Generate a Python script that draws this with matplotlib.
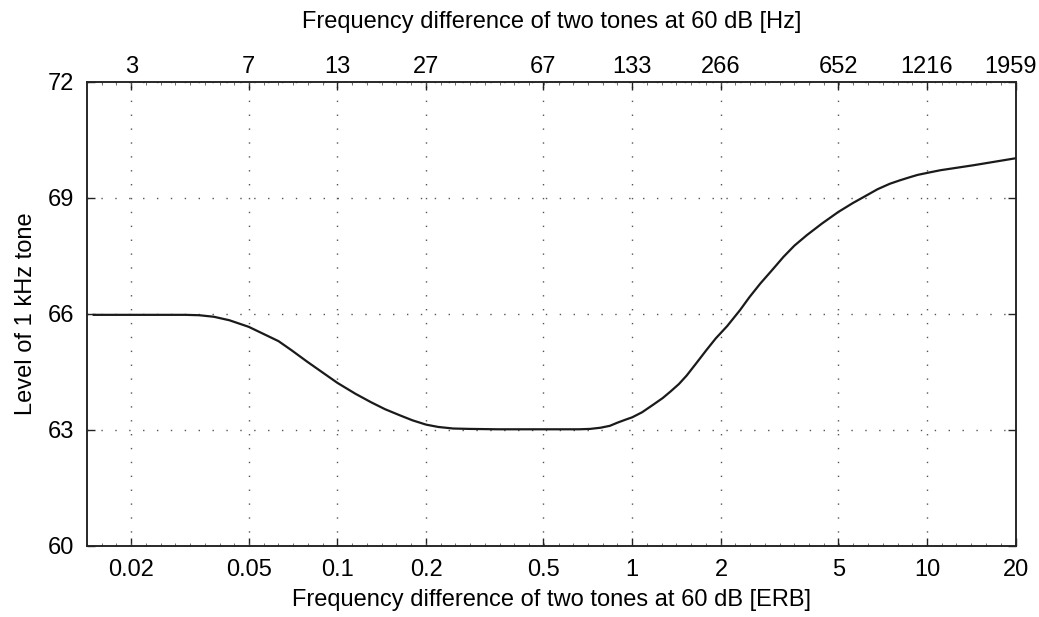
import numpy as np
import matplotlib
matplotlib.use('Agg')
import matplotlib.pyplot as plt
import matplotlib.transforms as mtransforms
from matplotlib.ticker import FixedLocator, FixedFormatter, NullFormatter

plt.rcParams['font.family'] = ['Liberation Sans', 'DejaVu Sans']

# curve
erb = [0.0149, 0.0305, 0.034, 0.0381, 0.043, 0.05, 0.056, 0.0631, 0.07, 0.0789,
       0.089, 0.1, 0.115, 0.130, 0.145, 0.163, 0.18, 0.2, 0.22, 0.247, 0.28,
       0.35, 0.5, 0.66, 0.72, 0.78, 0.84, 0.89, 0.95, 1.0, 1.08, 1.18, 1.27,
       1.35, 1.44, 1.53, 1.65, 1.79, 1.92, 2.1, 2.32, 2.5, 2.72, 3.0, 3.26,
       3.55, 3.91, 4.4, 5.0, 5.6, 6.24, 6.8, 7.48, 8.1, 8.75, 9.3, 10, 11.1,
       14.4, 20]
level = [65.97, 65.97, 65.96, 65.92, 65.83, 65.66, 65.48, 65.29, 65.05, 64.76,
         64.48, 64.21, 63.93, 63.71, 63.53, 63.37, 63.24, 63.13, 63.07, 63.03,
         63.02, 63.01, 63.01, 63.01, 63.02, 63.05, 63.1, 63.18, 63.26, 63.32,
         63.45, 63.65, 63.82, 63.99, 64.18, 64.40, 64.72, 65.07, 65.36, 65.68,
         66.09, 66.43, 66.78, 67.15, 67.47, 67.76, 68.03, 68.33, 68.63, 68.86,
         69.06, 69.22, 69.36, 69.45, 69.53, 69.59, 69.64, 69.71, 69.84, 70.02]

erb_ticks = [0.02, 0.05, 0.1, 0.2, 0.5, 1, 2, 5, 10, 20]
erb_labels = ['0.02', '0.05', '0.1', '0.2', '0.5', '1', '2', '5', '10', '20']
hz_labels = ['3', '7', '13', '27', '67', '133', '266', '652', '1216', '1959']
y_ticks = [60, 63, 66, 69, 72]

fs = 17

fig = plt.figure(figsize=(10.39, 6.17), dpi=100)
ax = fig.add_axes([0.0834, 0.1156, 0.8942, 0.752])

ax.plot(erb, level, color='#1a1a1a', lw=1.6)
ax.set_xscale('log')
ax.set_xlim(0.0141, 20)
ax.set_ylim(60, 72)

minor = 10 ** (np.arange(-40, 27) / 20)
ax.xaxis.set_major_locator(FixedLocator(erb_ticks))
ax.xaxis.set_major_formatter(FixedFormatter(erb_labels))
ax.xaxis.set_minor_locator(FixedLocator(minor))
ax.xaxis.set_minor_formatter(NullFormatter())
ax.set_yticks(y_ticks)

ax.grid(True, which='major', color='#555555', lw=1.0, linestyle=(0, (1, 9)))
ax.tick_params(which='major', direction='in', length=6, width=1, labelsize=fs,
               right=True, color='#222222')
ax.tick_params(axis='x', which='major', pad=9.5)
ax.tick_params(axis='y', which='major', pad=9)
ax.tick_params(which='minor', direction='in', length=2.2, width=0.6,
               color='#555555')
ax.tick_params(axis='y', which='minor', left=False, right=False)

ax.set_xlabel('Frequency difference of two tones at 60 dB [ERB]', fontsize=fs,
              labelpad=6)
ax.set_ylabel('Level of 1 kHz tone', fontsize=fs, labelpad=8)

top = ax.twiny()
top.set_xscale('log')
top.set_xlim(ax.get_xlim())
top.xaxis.set_major_locator(FixedLocator(erb_ticks))
top.xaxis.set_major_formatter(FixedFormatter(hz_labels))
top.xaxis.set_minor_locator(FixedLocator(minor))
top.xaxis.set_minor_formatter(NullFormatter())
top.tick_params(which='major', direction='in', length=6, width=1, labelsize=fs,
                pad=2.5, color='#222222')
top.tick_params(which='minor', direction='in', length=2.2, width=0.6,
                color='#555555')
top.set_xlabel('Frequency difference of two tones at 60 dB [Hz]', fontsize=fs,
               labelpad=20)

# last top label sits a little left of its tick so it stays inside the figure
fig.canvas.draw()
last = top.xaxis.get_major_ticks()[-1].label2
last.set_transform(last.get_transform() +
                   mtransforms.ScaledTranslation(-5 / 100, 0, fig.dpi_scale_trans))

for a in (ax, top):
    for s in a.spines.values():
        s.set_linewidth(1.1)
        s.set_color('#222222')

fig.savefig('out.png', dpi=100)
